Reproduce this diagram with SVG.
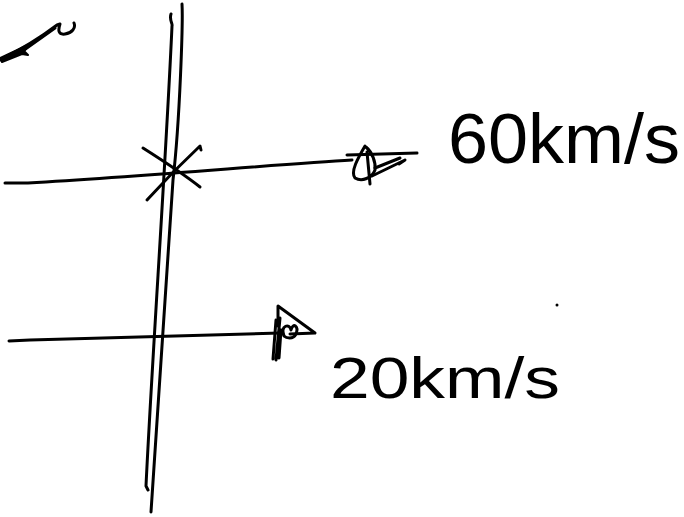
<svg xmlns="http://www.w3.org/2000/svg" width="684" height="517" viewBox="0 0 684 517">
<style>
.s{fill:none;stroke:#000;stroke-width:3;stroke-linecap:round;stroke-linejoin:round}
.t{font-family:"Liberation Sans","DejaVu Sans",sans-serif;fill:#000}
</style>
<rect width="684" height="517" fill="#fff"/>
<g id="connectors">
<path class="s" d="M171,14 C169,20 173,24 172,26 C166,160 152,360 146,486 L148,490"/>
<path class="s" d="M182,4 C183,20 180,120 173,180 C165,300 158,420 151,512"/>
<path class="s" d="M143,148 C165,162 185,175 200,187"/>
<path class="s" d="M147,200 C165,180 185,160 200,146 L201,150"/>
<path class="s" d="M5,183 L28,183 C150,176 280,164 352,160"/>
<path class="s" d="M347,155 L417,153 M372,176 L405,160 L399,164 M375,168 L400,158"/>
<path class="s" d="M365,146 C358,158 350,172 355,178 C362,182 372,178 375,170 C376,162 372,152 366,147 M367,152 L370,184"/>
<path class="s" d="M9,341 L30,340 C120,338 220,334 280,333"/>
<path class="s" d="M278,326 L278,306 L315,333 L290,334"/>
<path class="s" d="M276,320 L273,359 M280,318 L276,360 M281,330 L279,358 M284,336 C280,325 290,323 291,330 C293,322 299,326 296,334 C293,340 286,338 284,336"/>
</g>
<g id="scribble">
<path class="s" d="M0,60 C20,50 40,38 57,25 L60,24 C58,30 58,35 65,34 C72,33 76,28 74,23"/>
<path d="M0,58 L30,44 L24,51 L28,55 L22,54 L2,62 Z" fill="#000" stroke="#000" stroke-width="2" stroke-linejoin="round"/>
<path class="s" d="M24,50 L55,28"/>
</g>
<g id="label-60">
<text class="t" x="448" y="163" font-size="70" textLength="232" lengthAdjust="spacingAndGlyphs">60km/s</text>
</g>
<g id="label-20">
<text class="t" x="330" y="398" font-size="58" textLength="230" lengthAdjust="spacingAndGlyphs">20km/s</text>
</g>
<circle cx="557" cy="305" r="1.5" fill="#000"/>
</svg>
